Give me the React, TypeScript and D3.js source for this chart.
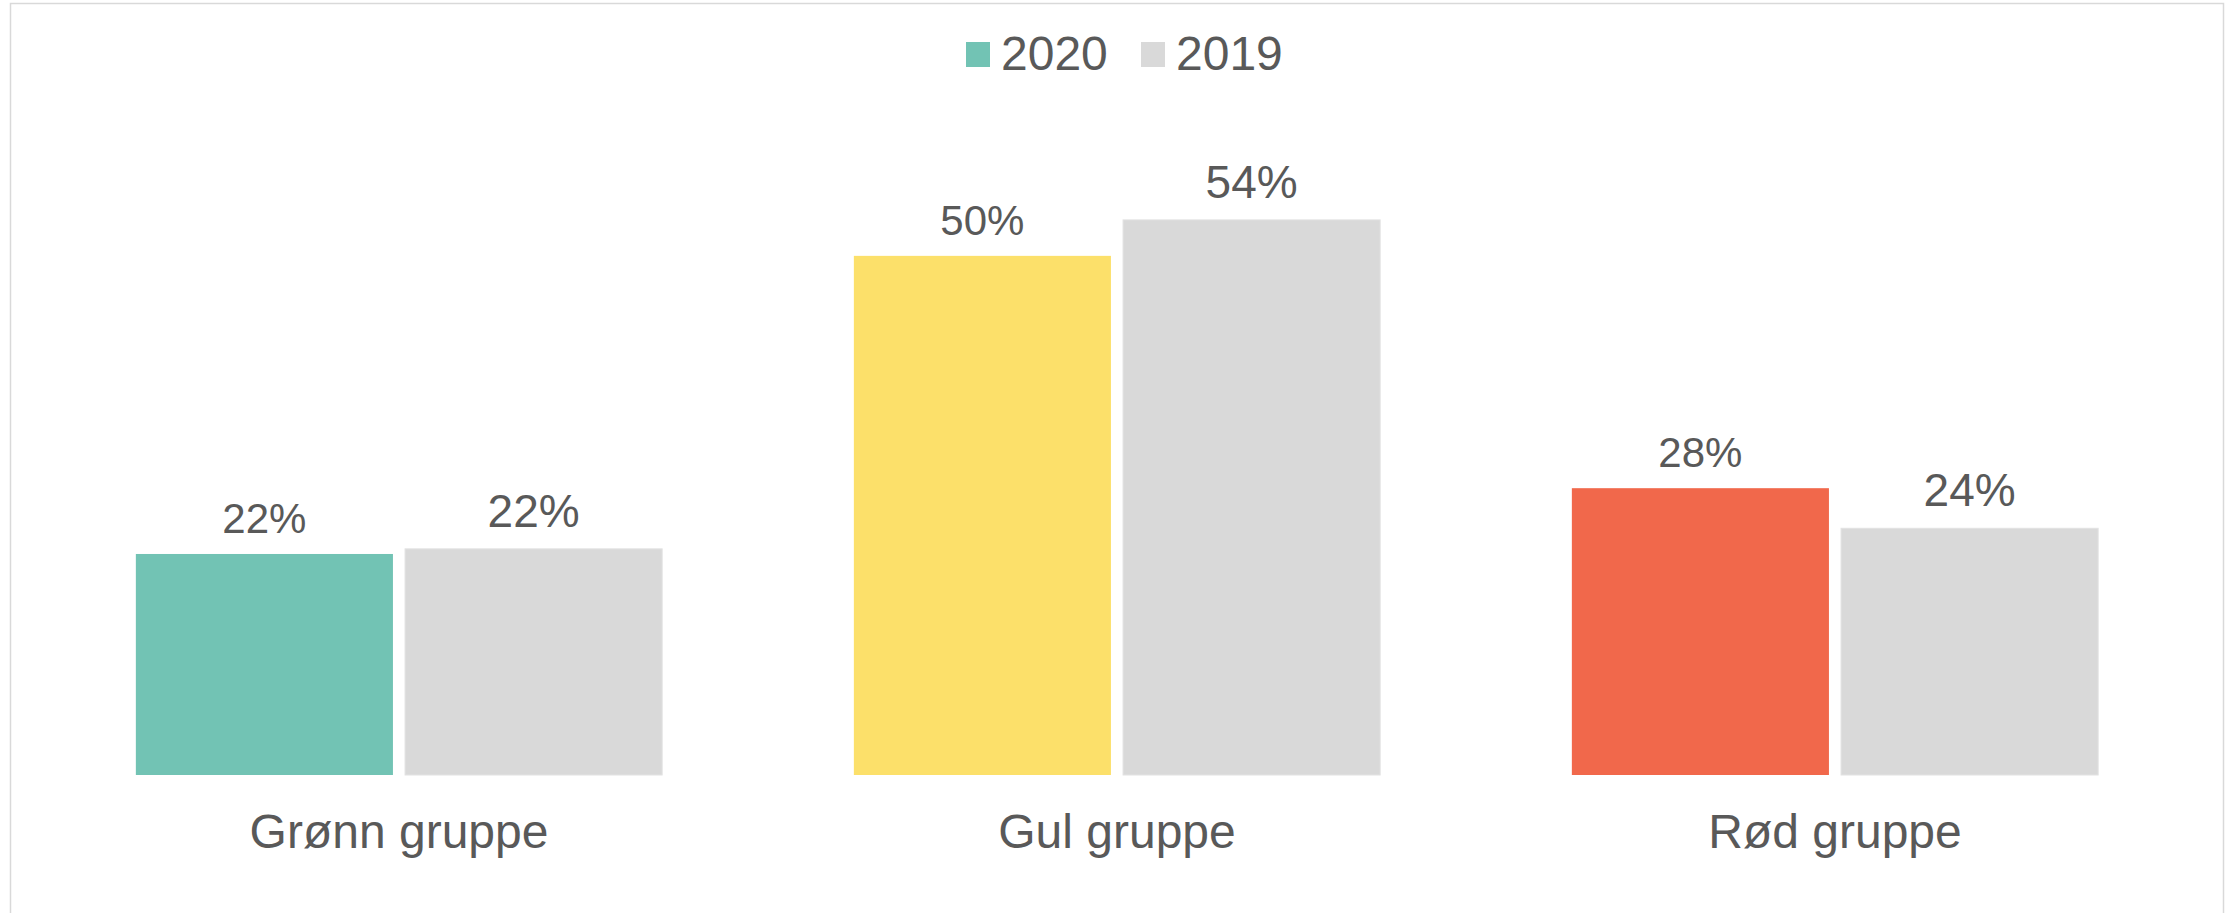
import React from 'react';
import * as d3 from 'd3';

const categories = ['Grønn gruppe', 'Gul gruppe', 'Rød gruppe'];
const years = ['2020', '2019'];
const values2020 = [21.5, 50.5, 27.9];
const values2019 = [22.0, 54.0, 24.0];
const labels2020 = ['22%', '50%', '28%'];
const labels2019 = ['22%', '54%', '24%'];
const colors2020 = ['#72C3B4', '#FCE06A', '#F1684B'];
const color2019 = '#D9D9D9';

const width = 2231;
const height = 913;
const baseY = 775;
const font = '"Liberation Sans", Arial, sans-serif';
const textColor = '#595959';

const x = d3.scaleBand<string>()
    .domain(categories)
    .range([40, 2194])
    .paddingInner(0.267)
    .paddingOuter(0.1335);

const xs = d3.scaleBand<string>()
    .domain(years)
    .range([0, x.bandwidth()])
    .paddingInner(0.045);

const y = d3.scaleLinear()
    .domain([0, 60])
    .range([baseY, baseY - 60 * 10.28]);

export default function App() {

    const bars = categories.map((c, i) => {
        const gx = x(c) as number;
        const x20 = gx + (xs('2020') as number);
        const x19 = gx + (xs('2019') as number);
        const bw = xs.bandwidth();
        return (
            <g key={c}>
                <rect x={x20} y={y(values2020[i])} width={bw} height={baseY - y(values2020[i])} fill={colors2020[i]} />
                <rect x={x19} y={y(values2019[i])} width={bw} height={baseY - y(values2019[i])} fill={color2019} stroke='#e2e2e2' strokeWidth={1} />
                <text x={x20 + bw / 2} y={y(values2020[i]) - 21} textAnchor='middle' fontSize={42} fill={textColor}>{labels2020[i]}</text>
                <text x={x19 + bw / 2} y={y(values2019[i]) - 22} textAnchor='middle' fontSize={46} fill={textColor}>{labels2019[i]}</text>
                <text x={gx + x.bandwidth() / 2} y={848} textAnchor='middle' fontSize={48} fill={textColor}>{c}</text>
            </g>
        );
    });

    // legend
    const legend = [
        { label: '2020', color: colors2020[0], sx: 966, tx: 1001 },
        { label: '2019', color: color2019, sx: 1141, tx: 1176 },
    ];

    return (
        <svg width={width} height={height} style={{ position: 'absolute', left: 0, top: 0, background: '#fff' }} fontFamily={font}>
            <rect x={10.5} y={3.5} width={2213} height={920} fill='#fff' stroke='#D9D9D9' strokeWidth={1.5} />
            {bars}
            {legend.map(l => (
                <g key={l.label}>
                    <rect x={l.sx} y={42} width={24} height={25} fill={l.color} />
                    <text x={l.tx} y={70} fontSize={48} fill={textColor}>{l.label}</text>
                </g>
            ))}
        </svg>
    );
}
